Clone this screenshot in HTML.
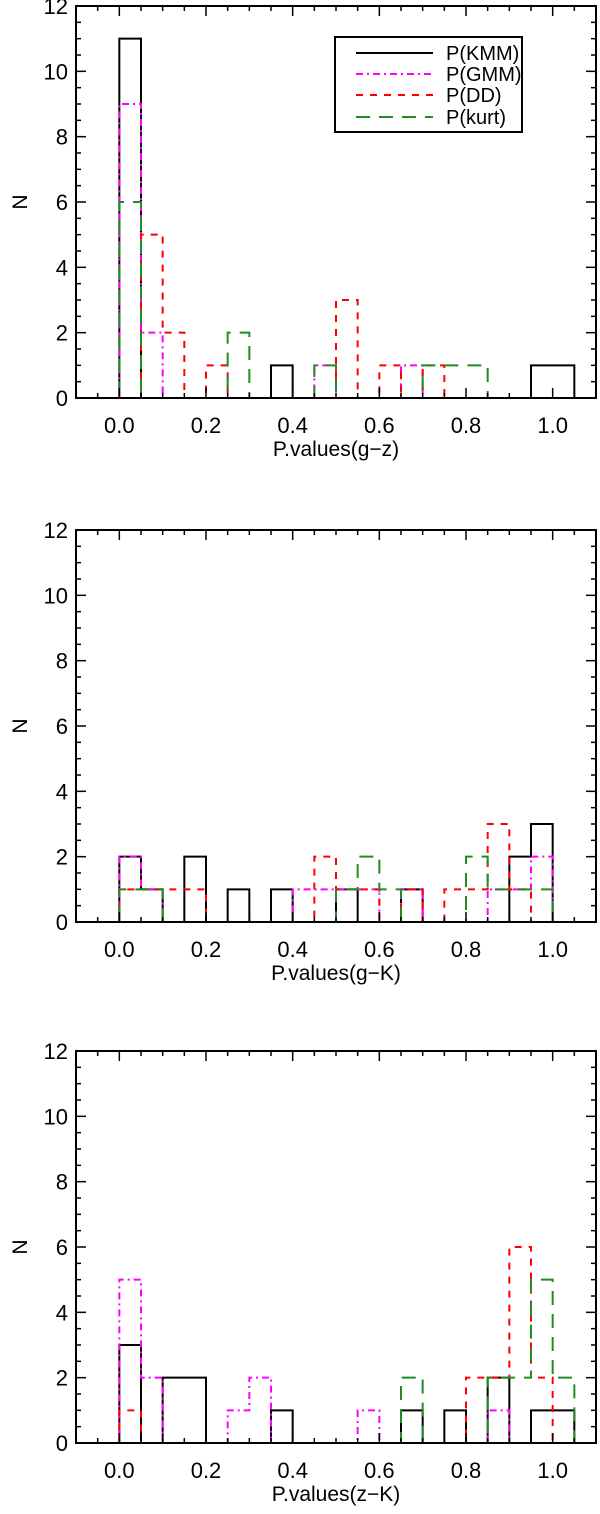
<!DOCTYPE html>
<html><head><meta charset="utf-8"><style>
html,body{margin:0;padding:0;background:#fff;}
svg{display:block;font-family:"Liberation Sans",sans-serif;}
</style></head><body>
<svg id="chart" width="600" height="1514" viewBox="0 0 600 1514" xmlns="http://www.w3.org/2000/svg"></svg>
<script>
// Bin edges: 0.00,0.05,...,1.05 (21 bins)
const binStart = 0.0;
const binWidth = 0.05;
const yTickLabels = ["0","2","4","6","8","10","12"];
const xTickLabels = ["0.0","0.2","0.4","0.6","0.8","1.0"];
const panelTitles = ["P.values(g\u2212z)","P.values(g\u2212K)","P.values(z\u2212K)"];
const seriesNames = ["P(KMM)","P(GMM)","P(DD)","P(kurt)"];
// Panel 1 (g-z)
const p1KMM  = [11,0,0,0,0,0,0,1,0,0,0,0,0,0,0,0,0,0,0,1,1];
const p1GMM  = [9,2,0,0,0,0,0,0,0,1,0,0,0,1,0,0,0,0,0,0,0];
const p1DD   = [0,5,2,0,1,0,0,0,0,0,3,0,1,0,1,0,0,0,0,0,0];
const p1Kurt = [6,0,0,0,0,2,0,0,0,1,0,0,0,0,1,1,1,0,0,0,0];
// Panel 2 (g-K)
const p2KMM  = [2,1,0,2,0,1,0,1,0,0,1,0,0,1,0,0,0,0,2,3,0];
const p2GMM  = [2,1,0,0,0,0,0,0,1,1,1,1,0,1,0,0,0,1,1,2,0];
const p2DD   = [1,1,1,1,0,0,0,0,0,2,1,1,0,1,0,1,1,3,1,0,0];
const p2Kurt = [1,1,0,0,0,0,0,0,0,0,1,2,1,0,0,0,2,1,1,1,0];
// Panel 3 (z-K)
const p3KMM  = [3,0,2,2,0,0,0,1,0,0,0,0,0,1,0,1,0,2,0,1,1];
const p3GMM  = [5,2,0,0,0,1,2,0,0,0,0,1,0,0,0,0,0,1,0,0,0];
const p3DD   = [1,0,0,0,0,0,0,0,0,0,0,0,0,0,0,0,2,2,6,2,0];
const p3Kurt = [0,0,0,0,0,0,0,0,0,0,0,0,0,2,0,0,0,2,2,5,2];

const panelsData = [[p1KMM,p1GMM,p1DD,p1Kurt],[p2KMM,p2GMM,p2DD,p2Kurt],[p3KMM,p3GMM,p3DD,p3Kurt]];
const styles = [
  {c:"#000000",d:""},
  {c:"#ff00ff",d:"7 4 2 4"},
  {c:"#ff0000",d:"7 7"},
  {c:"#228b22",d:"14 9"}
];
const NS="http://www.w3.org/2000/svg";
const svg=document.getElementById('chart');
const L=76,R=596,H=392;
const tops=[6,530,1051];
const xMin=-0.1,xMax=1.1,yMax=12;
function mk(t,a,p){const e=document.createElementNS(NS,t);for(const k in a)e.setAttribute(k,a[k]);(p||svg).appendChild(e);return e;}
function xs(v){return L+(v-xMin)/(xMax-xMin)*(R-L);}

tops.forEach((top,pi)=>{
  const bot=top+H;
  function ys(v){return bot-v/yMax*H;}
  const g=mk('g',{});
  
  
  panelsData[pi].forEach((arr,si)=>{
    let d='M'+xs(xMin)+','+ys(0)+' L'+xs(binStart)+','+ys(0);
    arr.forEach((v,k)=>{
      const x0=xs(binStart+k*binWidth),x1=xs(binStart+(k+1)*binWidth);
      d+=' L'+x0+','+ys(v)+' L'+x1+','+ys(v);
    });
    d+=' L'+xs(binStart+arr.length*binWidth)+','+ys(0)+' L'+xs(xMax)+','+ys(0);
    const p=mk('path',{d:d,fill:'none',stroke:styles[si].c,'stroke-width':2,'stroke-dasharray':styles[si].d},g);
    
    
  });
  const fr=mk('rect',{x:L,y:top,width:R-L,height:H,fill:'none',stroke:'#000','stroke-width':2},g);
  
  
  for(let v=0;v<=yMax;v+=0.5){
    const major=(v%2===0);const len=major?10:5;
    mk('line',{x1:L,x2:L+len,y1:ys(v),y2:ys(v),stroke:'#000','stroke-width':1.5},g);
    mk('line',{x1:R,x2:R-len,y1:ys(v),y2:ys(v),stroke:'#000','stroke-width':1.5},g);
  }
  yTickLabels.forEach((s,i)=>{
    const t=mk('text',{x:68,y:ys(i*2)+8,'text-anchor':'end','font-size':22},g);
    t.textContent=s;
    
    
  });
  for(let k=-2;k<=22;k++){
    const v=k*0.05;if(v<xMin-1e-9||v>xMax+1e-9)continue;
    const major=(k%4===0);const len=major?10:5;
    mk('line',{x1:xs(v),x2:xs(v),y1:bot,y2:bot-len,stroke:'#000','stroke-width':1.5},g);
    mk('line',{x1:xs(v),x2:xs(v),y1:top,y2:top+len,stroke:'#000','stroke-width':1.5},g);
  }
  xTickLabels.forEach((s,i)=>{
    const t=mk('text',{x:xs(i*0.2),y:bot+35,'text-anchor':'middle','font-size':22},g);
    t.textContent=s;
    
    
  });
  const xt=mk('text',{x:336,y:bot+58,'text-anchor':'middle','font-size':21},g);
  xt.textContent=panelTitles[pi];
  
  
  const yt=mk('text',{x:0,y:0,'text-anchor':'middle','font-size':21,transform:'translate(27,'+(top+H/2)+') rotate(-90)'},g);
  yt.textContent='N';
  
  
});

const lg=mk('g',{});


mk('rect',{x:335,y:37,width:187,height:95,fill:'#fff',stroke:'#000','stroke-width':2},lg);
const rowsY=[53,74,95,117];
seriesNames.forEach((n,i)=>{
  const e=mk('g',{},lg);
  
  
  mk('line',{x1:356,x2:433,y1:rowsY[i],y2:rowsY[i],stroke:styles[i].c,'stroke-width':2,'stroke-dasharray':styles[i].d},e);
  const t=mk('text',{x:446,y:rowsY[i]+7,'font-size':20},e);
  t.textContent=n;
});
</script>
</body></html>
